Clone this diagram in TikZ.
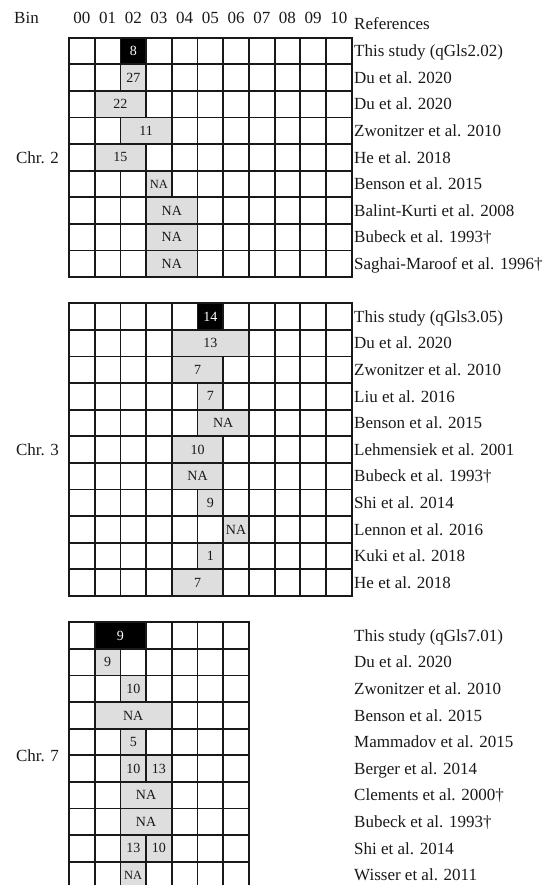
\documentclass[tikz,border=0pt]{standalone}
\usepackage{fontspec}
\setmainfont{Liberation Serif}
\definecolor{cellgray}{RGB}{222,222,222}
\definecolor{linecol}{RGB}{25,25,25}
\tikzset{
  gridline/.style={line width=1.8pt, draw=linecol, line cap=rect},
  lab/.style={font=\fontsize{17}{20}\selectfont, inner sep=0pt, text=black!90},
  reflab/.style={lab, anchor=base west},
  num/.style={font=\fontsize{14}{16}\selectfont, inner sep=0pt, text=black!90},
  smallnum/.style={font=\fontsize{12.5}{15}\selectfont, inner sep=0pt, text=black!90},
  graycell/.style={gridline, fill=cellgray},
  blackcell/.style={gridline, fill=black},
}
\newcommand\cw{25.7}
\newcommand\rh{26.6}
\newcommand\xo{69}
% grid block: #1 top, #2 ncols, #3 nrows
\newcommand\gridblock[3]{%
  \foreach \i in {0,...,#2} \draw[gridline] ({\xo+\cw*\i},#1) -- ({\xo+\cw*\i},{#1+\rh*#3});
  \foreach \j in {0,...,#3} \draw[gridline] (\xo,{#1+\rh*\j}) -- ({\xo+\cw*#2},{#1+\rh*\j});
}
% gray span: #1 name, #2 top, #3 row, #4 c1, #5 c2, #6 text style, #7 text
\newcommand\gcell[7]{%
  \filldraw[graycell] ({\xo+\cw*#4},{#2+\rh*#3}) rectangle ({\xo+\cw*(#5+1)},{#2+\rh*(#3+1)});
  \node[#6] (#1) at ({\xo+\cw*(#4+#5+1)/2},{#2+\rh*(#3+0.5)}) {#7};}
\newcommand\bcell[7]{%
  \filldraw[blackcell] ({\xo+\cw*#4},{#2+\rh*#3}) rectangle ({\xo+\cw*(#5+1)},{#2+\rh*(#3+1)});
  \node[#6, text=white] (#1) at ({\xo+\cw*(#4+#5+1)/2},{#2+\rh*(#3+0.5)}) {#7};}

\begin{document}
\begin{tikzpicture}[x=1pt,y=-1pt]
\useasboundingbox (0,0) rectangle (554,885);
\begin{scope}
\clip (0,0) rectangle (554,885);

% header
\node[lab, anchor=base] (bin) at (26.5,23.3) {Bin};
\foreach \b [count=\k from 0] in {00,01,02,03,04,05,06,07,08,09,10}
  \node[lab, anchor=base] (b\b) at ({\xo+\cw*(\k+0.5)},23.3) {\b};
\node[reflab] (refs) at (354,30) {References};

% ---------------- Chr. 2 ----------------
\def\Ta{37.7}
\gridblock{\Ta}{11}{9}
\bcell{c2r0}{\Ta}{0}{2}{2}{num}{8}
\gcell{c2r1}{\Ta}{1}{2}{2}{num}{27}
\gcell{c2r2}{\Ta}{2}{1}{2}{num}{22}
\gcell{c2r3}{\Ta}{3}{2}{3}{num}{11}
\gcell{c2r4}{\Ta}{4}{1}{2}{num}{15}
\gcell{c2r5}{\Ta}{5}{3}{3}{smallnum}{NA}
\gcell{c2r6}{\Ta}{6}{3}{4}{num}{NA}
\gcell{c2r7}{\Ta}{7}{3}{4}{num}{NA}
\gcell{c2r8}{\Ta}{8}{3}{4}{num}{NA}
\node[lab, anchor=base] (chr2) at (37.5,{\Ta+\rh*4.5+5.7}) {Chr. 2};
\foreach \t [count=\k from 0] in {This study (qGls2.02), Du et al. 2020, Du et al. 2020,
  Zwonitzer et al. 2010, He et al. 2018, Benson et al. 2015, Balint-Kurti et al. 2008,
  Bubeck et al. 1993†, Saghai-Maroof et al. 1996†}
  \node[reflab] (r2\k) at (354,{\Ta+\rh*(\k+0.5)+5.7}) {\t};

% ---------------- Chr. 3 ----------------
\def\Tb{303.3}
\gridblock{\Tb}{11}{11}
\bcell{c3r0}{\Tb}{0}{5}{5}{num}{14}
\gcell{c3r1}{\Tb}{1}{4}{6}{num}{13}
\gcell{c3r2}{\Tb}{2}{4}{5}{num}{7}
\gcell{c3r3}{\Tb}{3}{5}{5}{num}{7}
\gcell{c3r4}{\Tb}{4}{5}{6}{num}{NA}
\gcell{c3r5}{\Tb}{5}{4}{5}{num}{10}
\gcell{c3r6}{\Tb}{6}{4}{5}{num}{NA}
\gcell{c3r7}{\Tb}{7}{5}{5}{num}{9}
\gcell{c3r8}{\Tb}{8}{6}{6}{num}{NA}
\gcell{c3r9}{\Tb}{9}{5}{5}{num}{1}
\gcell{c3r10}{\Tb}{10}{4}{5}{num}{7}
\node[lab, anchor=base] (chr3) at (37.5,{\Tb+\rh*5.5+5.7}) {Chr. 3};
\foreach \t [count=\k from 0] in {This study (qGls3.05), Du et al. 2020,
  Zwonitzer et al. 2010, Liu et al. 2016, Benson et al. 2015, Lehmensiek et al. 2001,
  Bubeck et al. 1993†, Shi et al. 2014, Lennon et al. 2016, Kuki et al. 2018, He et al. 2018}
  \node[reflab] (r3\k) at (354,{\Tb+\rh*(\k+0.5)+5.7}) {\t};

% ---------------- Chr. 7 ----------------
\def\Tc{622.3}
\gridblock{\Tc}{7}{10}
\bcell{c7r0}{\Tc}{0}{1}{2}{num}{9}
\gcell{c7r1}{\Tc}{1}{1}{1}{num}{9}
\gcell{c7r2}{\Tc}{2}{2}{2}{num}{10}
\gcell{c7r3}{\Tc}{3}{1}{3}{num}{NA}
\gcell{c7r4}{\Tc}{4}{2}{2}{num}{5}
\gcell{c7r5a}{\Tc}{5}{2}{2}{num}{10}
\gcell{c7r5b}{\Tc}{5}{3}{3}{num}{13}
\gcell{c7r6}{\Tc}{6}{2}{3}{num}{NA}
\gcell{c7r7}{\Tc}{7}{2}{3}{num}{NA}
\gcell{c7r8a}{\Tc}{8}{2}{2}{num}{13}
\gcell{c7r8b}{\Tc}{8}{3}{3}{num}{10}
\gcell{c7r9}{\Tc}{9}{2}{2}{smallnum}{NA}
\node[lab, anchor=base] (chr7) at (37.5,{\Tc+\rh*5+5.7}) {Chr. 7};
\foreach \t [count=\k from 0] in {This study (qGls7.01), Du et al. 2020,
  Zwonitzer et al. 2010, Benson et al. 2015, Mammadov et al. 2015, Berger et al. 2014,
  Clements et al. 2000†, Bubeck et al. 1993†, Shi et al. 2014, Wisser et al. 2011}
  \node[reflab] (r7\k) at (354,{\Tc+\rh*(\k+0.5)+5.7}) {\t};
\end{scope}
\end{tikzpicture}
\end{document}
